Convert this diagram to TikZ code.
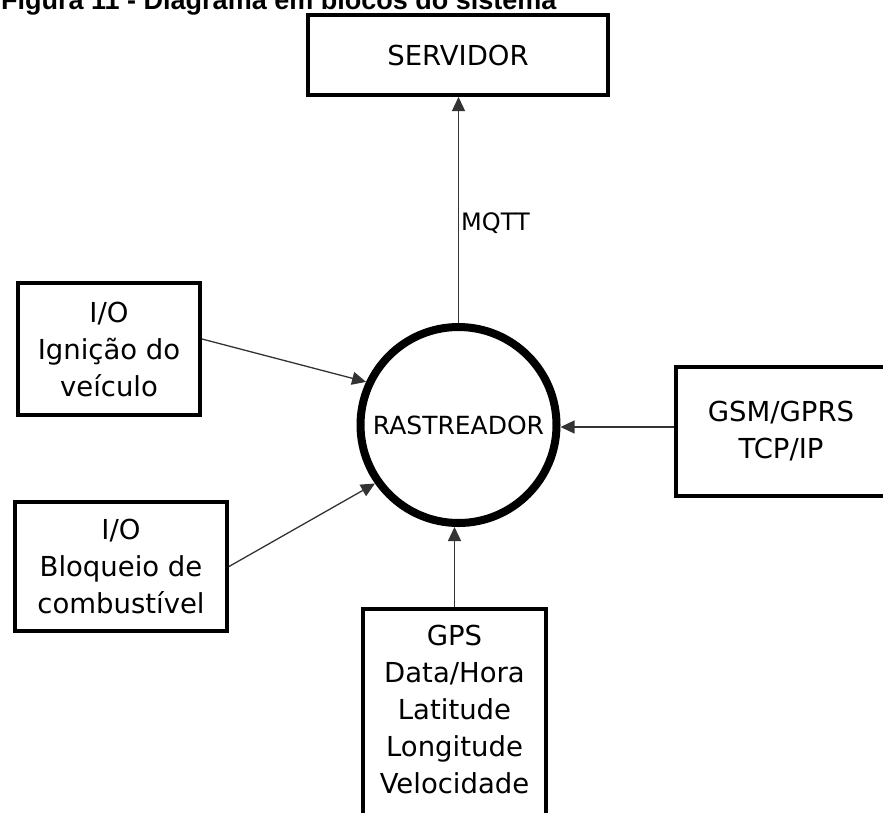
\documentclass[tikz,border=0pt]{standalone}
\usepackage{fontspec}
\setmainfont{DejaVu Sans}
\newfontfamily\titlefont{Liberation Sans}
\usetikzlibrary{arrows.meta,calc}
\begin{document}
\begin{tikzpicture}[x=1pt,y=-1pt,
  box/.style={draw=black, line width=4pt, inner sep=0pt, align=center,
    font=\fontsize{27.5}{37}\selectfont},
  conn/.style={draw=black!80, line width=1.3pt, -{Triangle[length=14pt,width=13pt]}},
]
\useasboundingbox (0,0) rectangle (883,812);
\node[anchor=base west, inner sep=0pt,
  font=\titlefont\bfseries\fontsize{27}{30}\selectfont] (title) at (1,9)
  {Figura 11 - Diagrama em blocos do sistema};
\node[box, minimum width=300pt, minimum height=80pt] (serv) at (458,55) {SERVIDOR};
\node[draw=black, circle, line width=8pt, minimum size=196pt, inner sep=0pt,
  font=\fontsize{25}{30}\selectfont] (rast) at (458.5,425) {RASTREADOR};
\node[box, minimum width=182pt, minimum height=132pt] (io1) at (109,349)
  {I/O\\Ignição do\\veículo};
\node[box, minimum width=212pt, minimum height=129pt] (io2) at (121,566.5)
  {I/O\\Bloqueio de\\combustível};
\node[box, minimum width=210pt, minimum height=129pt] (gsm) at (781,431.5)
  {GSM/GPRS\\TCP/IP};
\node[box, anchor=north, minimum width=183pt, inner ysep=16pt] (gps) at (454.5,607)
  {GPS\\Data/Hora\\Latitude\\Longitude\\Velocidade\\[20pt]~};
\node[anchor=base west, inner sep=0pt, font=\fontsize{24}{28}\selectfont] (mqtt) at (461,230) {MQTT};
\draw[conn] ([yshift=10pt]io1.east) -- (rast.155);
\draw[conn] (io2.east) -- (rast.215);
\draw[conn] ([yshift=4.5pt]gsm.west) -- ([yshift=4.5pt]gsm.west -| rast.east);
\draw[conn] (rast.north) -- (rast.north |- serv.south);
\draw[conn] (gps.north) -- (gps.north |- rast.south);
\end{tikzpicture}
\end{document}
